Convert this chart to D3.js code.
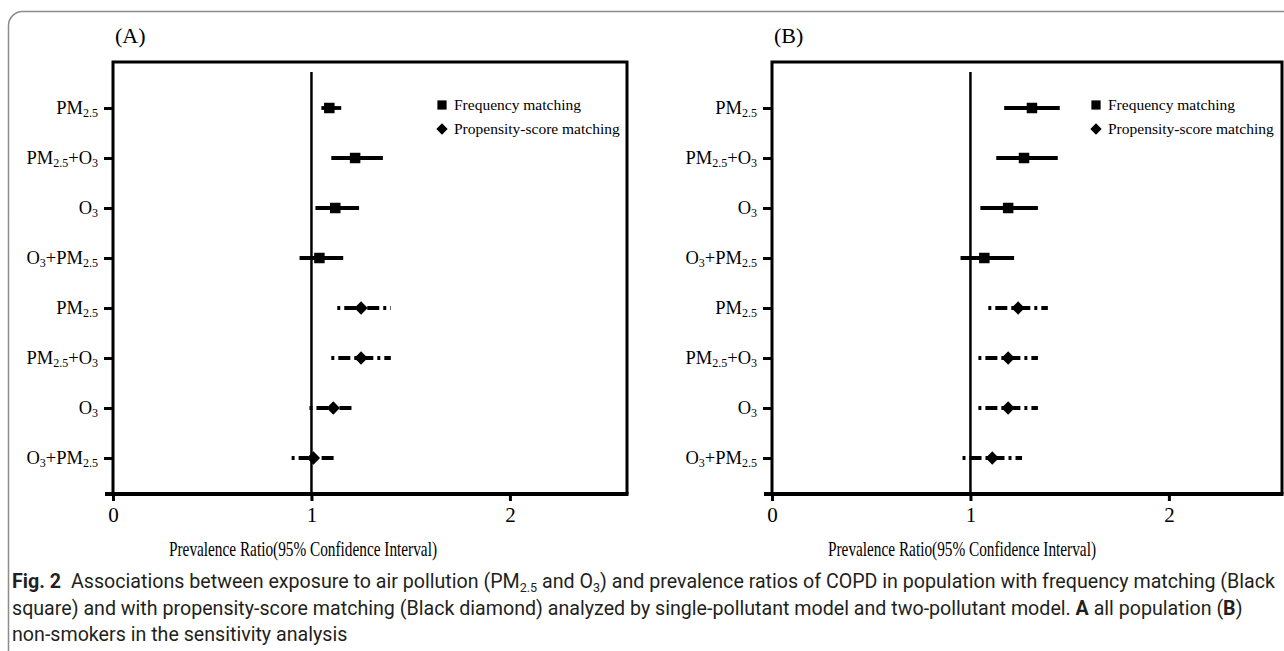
<!DOCTYPE html>
<html>
<head>
<meta charset="utf-8">
<script src="https://cdn.jsdelivr.net/npm/d3@7"></script>
<style>
  body { margin: 0; background: #fff; }
  svg { display: block; }
  .serif { font-family: "Liberation Serif", "Times New Roman", serif; fill: #000; }
  .cap { font-family: Roboto, "Liberation Sans", sans-serif; fill: #231f20; }
</style>
</head>
<body>
<svg id="chart" width="1284" height="651"></svg>
<script>
// rows top to bottom, text in {} is a subscript
const rowLabels = ["PM{2.5}", "PM{2.5}+O{3}", "O{3}", "O{3}+PM{2.5}", "PM{2.5}", "PM{2.5}+O{3}", "O{3}", "O{3}+PM{2.5}"];
const rowMethod = ["freq", "freq", "freq", "freq", "psm", "psm", "psm", "psm"];
const xTicks = [0, 1, 2];
const legendLabels = ["Frequency matching", "Propensity-score matching"];

// (A) all population
const prA = [1.09, 1.22, 1.12, 1.04, 1.25, 1.25, 1.11, 1.01];
const loA = [1.05, 1.10, 1.02, 0.94, 1.13, 1.10, 0.99, 0.90];
const hiA = [1.15, 1.36, 1.24, 1.16, 1.40, 1.40, 1.22, 1.12];

// (B) non-smokers
const prB = [1.31, 1.27, 1.19, 1.07, 1.24, 1.19, 1.19, 1.11];
const loB = [1.17, 1.13, 1.05, 0.95, 1.09, 1.04, 1.04, 0.96];
const hiB = [1.45, 1.44, 1.34, 1.22, 1.39, 1.34, 1.34, 1.26];

const svg = d3.select("#chart");

// outer caption frame (only top + left edges show)
svg.append("rect")
    .attr("x", 8.5).attr("y", 11.5)
    .attr("width", 1400).attr("height", 800)
    .attr("rx", 14)
    .attr("fill", "none")
    .attr("stroke", "#8c8c8c")
    .attr("stroke-width", 1.5);

// split "PM{2.5}+O{3}" into runs
function runs(label) {
    const out = [];
    label.split(/(\{[^}]*\})/).forEach(p => {
        if (!p) return;
        if (p[0] === "{") out.push({ t: p.slice(1, -1), sub: true });
        else out.push({ t: p, sub: false });
    });
    return out;
}

function writeRuns(text, parts, subSize, shift) {
    let down = false;
    parts.forEach(p => {
        const ts = text.append("tspan").text(p.t);
        if (p.bold) ts.attr("font-weight", "bold");
        if (p.sub && !down) { ts.attr("font-size", subSize).attr("dy", shift); down = true; }
        else if (!p.sub && down) { ts.attr("dy", -shift); down = false; }
    });
}

const mark = {
    freq: d3.symbol(d3.symbolSquare, 110),
    psm: d3.symbol(d3.symbolSquare, 88)
};

function drawPanel(opts) {
    const g = svg.append("g");
    const x = d3.scaleLinear().domain([0, opts.xMax]).range([opts.left, opts.right]);
    const y = d3.scalePoint().domain(d3.range(rowLabels.length)).range([108, 458]);
    const top = 62, bottom = 494;

    // panel letter
    g.append("text").attr("class", "serif")
        .attr("x", opts.left + 2).attr("y", 43)
        .attr("font-size", 22)
        .text(opts.title);

    // frame: left, top, right
    g.append("path")
        .attr("d", `M${x(0)},${bottom} V${top} H${x(opts.xMax)} V${bottom}`)
        .attr("fill", "none").attr("stroke", "#000").attr("stroke-width", 3);

    // reference line at 1
    g.append("line")
        .attr("x1", x(1)).attr("x2", x(1))
        .attr("y1", top + 10).attr("y2", bottom)
        .attr("stroke", "#000").attr("stroke-width", 2.5);

    // x axis
    const xAxis = g.append("g")
        .attr("transform", `translate(0,${bottom})`)
        .call(d3.axisBottom(x).tickValues(xTicks).tickSize(7).tickPadding(6).tickFormat(d3.format("d")));
    xAxis.select(".domain").remove();
    xAxis.selectAll(".tick line").attr("stroke", "#000").attr("stroke-width", 3);
    xAxis.selectAll(".tick text")
        .attr("class", "serif").attr("font-size", 21);
    g.append("line")
        .attr("x1", x(0) - 8).attr("x2", x(opts.xMax) + 1.5)
        .attr("y1", bottom).attr("y2", bottom)
        .attr("stroke", "#000").attr("stroke-width", 4);

    // y ticks + labels
    const yAxis = g.append("g")
        .attr("transform", `translate(${x(0)},0)`)
        .call(d3.axisLeft(y).tickSize(9).tickFormat(""));
    yAxis.select(".domain").remove();
    yAxis.selectAll(".tick line").attr("stroke", "#000").attr("stroke-width", 3);

    rowLabels.forEach((lab, i) => {
        const t = g.append("text").attr("class", "serif")
            .attr("x", x(0) - 15).attr("y", y(i) + 6)
            .attr("text-anchor", "end")
            .attr("font-size", 18.5);
        writeRuns(t, runs(lab), 12, 3);
    });

    // confidence intervals
    const rows = d3.range(rowLabels.length).map(i => ({
        i, m: rowMethod[i], pr: opts.pr[i], lo: opts.lo[i], hi: opts.hi[i]
    }));

    g.selectAll(".ci").data(rows).join("line")
        .attr("class", "ci")
        .attr("x1", d => x(d.lo)).attr("x2", d => x(d.hi))
        .attr("y1", d => y(d.i)).attr("y2", d => y(d.i))
        .attr("stroke", "#000").attr("stroke-width", 3.8)
        .attr("stroke-dasharray", d => d.m === "psm" ? "3,4,12,4" : null);

    g.selectAll(".pt").data(rows).join("path")
        .attr("class", "pt")
        .attr("d", d => mark[d.m]())
        .attr("transform", d => `translate(${x(d.pr)},${y(d.i)})` + (d.m === "psm" ? " rotate(45)" : ""))
        .attr("fill", "#000");

    // legend
    legendLabels.forEach((lab, k) => {
        const ly = 105 + k * 24;
        g.append("path")
            .attr("d", k === 0 ? d3.symbol(d3.symbolSquare, 85)() : d3.symbol(d3.symbolSquare, 64)())
            .attr("transform", `translate(${opts.legendX},${ly})` + (k === 1 ? " rotate(45)" : ""))
            .attr("fill", "#000");
        g.append("text").attr("class", "serif")
            .attr("x", opts.legendX + 12).attr("y", ly + 5)
            .attr("font-size", 15.5)
            .text(lab);
    });

    // axis title
    g.append("text").attr("class", "serif")
        .attr("x", opts.left + 190).attr("y", 556)
        .attr("text-anchor", "middle")
        .attr("font-size", 22)
        .attr("textLength", 268).attr("lengthAdjust", "spacingAndGlyphs")
        .text("Prevalence Ratio(95% Confidence Interval)");
}

drawPanel({ title: "(A)", left: 113, right: 627, xMax: 2.59, legendX: 442, pr: prA, lo: loA, hi: hiA });
drawPanel({ title: "(B)", left: 772, right: 1282, xMax: 2.57, legendX: 1096, pr: prB, lo: loB, hi: hiB });

// figure caption
const caption = [
    { y: 588, parts: [
        { t: "Fig. 2", bold: true },
        { t: "\u2002Associations between exposure to air pollution (PM" }, { t: "2.5", sub: true },
        { t: " and O" }, { t: "3", sub: true },
        { t: ") and prevalence ratios of COPD in population with frequency matching (Black" }] },
    { y: 615, parts: [
        { t: "square) and with propensity-score matching (Black diamond) analyzed by single-pollutant model and two-pollutant model. " },
        { t: "A", bold: true }, { t: " all population (" }, { t: "B", bold: true }, { t: ")" }] },
    { y: 641, parts: [{ t: "non-smokers in the sensitivity analysis" }] }
];
const capNodes = caption.map(line => {
    const t = svg.append("text").attr("class", "cap")
        .attr("x", 12).attr("y", line.y)
        .attr("font-size", 19.5);
    writeRuns(t, line.parts, 12.5, 4);
    return t;
});
// squeeze every line by the factor that makes the first one reach the right edge
const squeeze = 1263 / capNodes[0].node().getComputedTextLength();
capNodes.forEach(t => {
    const w = t.node().getComputedTextLength() * squeeze;
    t.attr("textLength", w).attr("lengthAdjust", "spacingAndGlyphs");
});
</script>
</body>
</html>
